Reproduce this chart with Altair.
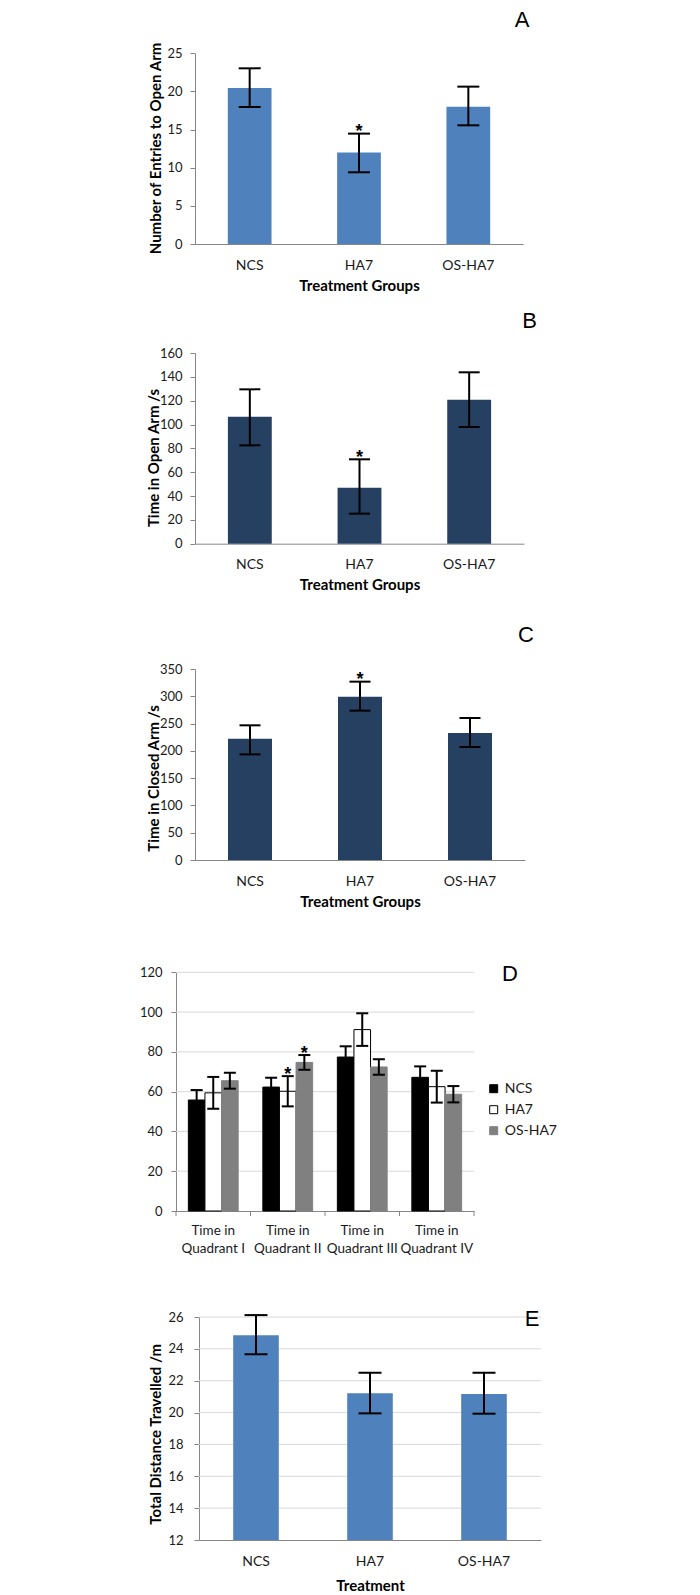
import altair as alt
import pandas as pd

FONT = "Lato"
AXIS_GRAY = "#868686"
GRID_GRAY = "#d9d9d9"
BLUE = "#4f81bd"
NAVY = "#254061"

groups = ["NCS", "HA7", "OS-HA7"]

# Panel A: Number of Entries to Open Arm
a_mean = [20.45, 11.98, 18.0]
a_lo = [17.96, 9.40, 15.56]
a_hi = [23.03, 14.47, 20.63]
a_star = ["", "*", ""]
a_ticks = [0, 5, 10, 15, 20, 25]

# Panel B: Time in Open Arm /s
b_mean = [106.6, 47.0, 120.8]
b_lo = [82.5, 25.2, 97.9]
b_hi = [129.5, 70.8, 143.8]
b_star = ["", "*", ""]
b_ticks = [0, 20, 40, 60, 80, 100, 120, 140, 160]

# Panel C: Time in Closed Arm /s
c_mean = [222.4, 299.3, 232.7]
c_lo = [193.6, 273.7, 207.1]
c_hi = [246.8, 326.8, 260.2]
c_star = ["", "*", ""]
c_ticks = [0, 50, 100, 150, 200, 250, 300, 350]

# Panel D: quadrant times
quadrants = ["Time in Quadrant I", "Time in Quadrant II",
             "Time in Quadrant III", "Time in Quadrant IV"]
d_ncs_mean = [55.8, 62.3, 77.4, 67.2]
d_ncs_err = [5.0, 4.7, 5.4, 5.5]
d_ha7_mean = [59.4, 60.2, 91.2, 62.5]
d_ha7_err = [8.0, 7.6, 8.2, 8.0]
d_os_mean = [65.5, 74.7, 72.4, 58.7]
d_os_err = [4.0, 3.7, 3.9, 4.1]
d_ncs_star = ["", "", "", ""]
d_ha7_star = ["", "*", "", ""]
d_os_star = ["", "*", "", ""]
d_ticks = [0, 20, 40, 60, 80, 100, 120]

# Panel E: Total Distance Travelled /m
e_mean = [24.85, 21.21, 21.17]
e_lo = [23.66, 19.95, 19.93]
e_hi = [26.12, 22.50, 22.50]
e_star = ["", "", ""]
e_ticks = [12, 14, 16, 18, 20, 22, 24, 26]


def letter_layer(letter, lx, ly):
    return alt.Chart(pd.DataFrame({"t": [letter]})).mark_text(
        font="Liberation Sans", fontSize=22, baseline="alphabetic",
        align="center", color="black"
    ).encode(x=alt.value(lx), y=alt.value(ly), text="t:N")


def simple_panel(means, los, his, stars, ticks, color, ytitle, xtitle, letter,
                 width, height, ytop, xr, yoff, ytx, yty, lx, ly, cap,
                 xtitle_y, ylabel_pad, grid=False, pin=False):
    df = pd.DataFrame({"group": groups, "mean": means, "lo": los,
                       "hi": his, "star": stars})
    ymin, ymax = ticks[0], ticks[-1]
    xs = alt.Scale(domain=groups, range=xr, paddingInner=0.6, paddingOuter=0.3)
    ys = alt.Scale(domain=[ymin, ymax], range=[height, ytop], nice=False, zero=False)
    xax = alt.Axis(title=xtitle, ticks=False, tickSize=0, labelPadding=14,
                   labelAngle=0, labelFontSize=14, titleY=xtitle_y,
                   titleBaseline="middle")
    yax = alt.Axis(title=ytitle, values=ticks, offset=yoff, grid=False,
                   tickSize=5, labelPadding=ylabel_pad, titleX=ytx, titleY=yty,
                   titleBaseline="middle")
    x = alt.X("group:N", scale=xs, axis=xax, sort=groups)
    base = alt.Chart(df)
    layers = []
    if grid:
        layers.append(
            alt.Chart(pd.DataFrame({"v": ticks[1:]})).mark_rule(
                color=GRID_GRAY, strokeWidth=1
            ).encode(y=alt.Y("v:Q", scale=ys, axis=yax),
                     x=alt.value(xr[0]), x2=alt.value(xr[1]))
        )
    layers.append(base.mark_bar(color=color, opacity=1).encode(
        x=x, y=alt.Y("mean:Q", scale=ys, axis=yax), y2=alt.datum(ymin)))
    layers.append(base.mark_rule(color="black", strokeWidth=2).encode(
        x=x, y=alt.Y("lo:Q", scale=ys, axis=yax), y2="hi:Q"))
    for f in ["lo", "hi"]:
        layers.append(base.mark_tick(orient="horizontal", size=cap, thickness=2,
                                     color="black", opacity=1).encode(
            x=x, y=alt.Y(f + ":Q", scale=ys, axis=yax)))
    layers.append(base.mark_text(font="Liberation Sans", fontSize=18,
                                 fontWeight="bold", baseline="alphabetic",
                                 dy=3.5, color="black").encode(
        x=x, y=alt.Y("hi:Q", scale=ys, axis=yax), text="star:N"))
    layers.append(letter_layer(letter, lx, ly))
    if pin:
        layers.append(alt.Chart(pd.DataFrame({"p": [0]})).mark_rule(
            color="white", strokeWidth=1).encode(
            x=alt.value(-186.5), y=alt.value(100), y2=alt.value(110)))
    return alt.layer(*layers).properties(width=width, height=height)


A = simple_panel(a_mean, a_lo, a_hi, a_star, a_ticks, BLUE,
                 "Number of Entries to Open Arm", "Treatment Groups", "A",
                 328, 235, 44.3, [0, 328], 0, -39.2, 139, 327, 17.6, 22,
                 41, 8, pin=True)
B = simple_panel(b_mean, b_lo, b_hi, b_star, b_ticks, NAVY,
                 "Time in Open Arm /s", "Treatment Groups", "B",
                 329, 299.7, 109, [0, 329], 0, -41.2, 213.5, 334.5, 84.3, 21,
                 41, 8)
C = simple_panel(c_mean, c_lo, c_hi, c_star, c_ticks, NAVY,
                 "Time in Closed Arm /s", "Treatment Groups", "C",
                 330, 316, 125, [0, 330], 0, -41.2, 234, 331, 98, 21,
                 41, 8)
E = simple_panel(e_mean, e_lo, e_hi, e_star, e_ticks, BLUE,
                 "Total Distance Travelled /m", "Treatment", "E",
                 346, 329, 106, [4, 346], -4, -43.2, 222.8, 337, 114.6, 23,
                 45, 11, grid=True)

# Panel D
rows = []
for s, means, errs, stars in [("NCS", d_ncs_mean, d_ncs_err, d_ncs_star),
                              ("HA7", d_ha7_mean, d_ha7_err, d_ha7_star),
                              ("OS-HA7", d_os_mean, d_os_err, d_os_star)]:
    for q, m, e, st in zip(quadrants, means, errs, stars):
        rows.append({"quad": q, "series": s, "mean": m,
                     "lo": m - e, "hi": m + e, "star": st})
ddf = pd.DataFrame(rows)

D_TOP = 858.7 - 8  # D view top in top-level coordinates
d_height = 351
d_xr = [-19, 279]
d_xs = alt.Scale(domain=quadrants, range=d_xr, paddingInner=0, paddingOuter=0)
d_ys = alt.Scale(domain=[0, 120], range=[d_height, 112.3], nice=False, zero=False)
d_xax = alt.Axis(title=None, ticks=False, tickSize=0,
                 labelPadding=12, labelAngle=0, labelFontSize=13.5,
                 labelLineHeight=18,
                 labelExpr="['Time in', replace(datum.label, 'Time in ', '')]")
d_yax = alt.Axis(title=None, values=d_ticks, offset=19, tickSize=5,
                 labelPadding=9, grid=False)
d_x = alt.X("quad:N", scale=d_xs, axis=d_xax, sort=quadrants)
d_xo = alt.XOffset("series:N", scale=alt.Scale(domain=groups, paddingInner=0,
                                               paddingOuter=0.744), sort=groups)
d_leg = alt.Legend(title=None, orient="none", legendX=291.7, legendY=D_TOP + 222,
                   symbolType="square", symbolSize=64, rowPadding=7,
                   padding=0, labelOffset=4, symbolStrokeWidth=1)
d_fill = alt.Fill("series:N", scale=alt.Scale(domain=groups,
                  range=["#000000", "#ffffff", "#808080"]), legend=d_leg, sort=groups)
d_stroke = alt.Stroke("series:N", scale=alt.Scale(domain=groups,
                      range=["#000000", "#000000", "#808080"]), legend=d_leg, sort=groups)

dbase = alt.Chart(ddf)
qdf = pd.DataFrame({"quad": quadrants})
d_layers = [
    alt.Chart(pd.DataFrame({"v": d_ticks[1:]})).mark_rule(
        color=GRID_GRAY, strokeWidth=1
    ).encode(y=alt.Y("v:Q", scale=d_ys, axis=d_yax),
             x=alt.value(d_xr[0]), x2=alt.value(d_xr[1])),
    # category-boundary tick marks on the x axis
    alt.Chart(qdf).mark_rule(color=AXIS_GRAY, strokeWidth=1).encode(
        x=alt.X("quad:N", scale=d_xs, axis=d_xax, sort=quadrants, bandPosition=0),
        y=alt.value(d_height), y2=alt.value(d_height + 5)),
    alt.Chart(pd.DataFrame({"p": [0]})).mark_rule(color=AXIS_GRAY, strokeWidth=1).encode(
        x=alt.value(d_xr[1]), y=alt.value(d_height), y2=alt.value(d_height + 5)),
    dbase.mark_bar(opacity=1, strokeWidth=1).encode(
        x=d_x, xOffset=d_xo, y=alt.Y("mean:Q", scale=d_ys, axis=d_yax),
        y2=alt.datum(0), fill=d_fill, stroke=d_stroke),
    dbase.mark_rule(color="black", strokeWidth=2).encode(
        x=d_x, xOffset=d_xo, y=alt.Y("lo:Q", scale=d_ys, axis=d_yax), y2="hi:Q"),
]
for f in ["lo", "hi"]:
    d_layers.append(dbase.mark_tick(orient="horizontal", size=12, thickness=2,
                                    color="black", opacity=1).encode(
        x=d_x, xOffset=d_xo, y=alt.Y(f + ":Q", scale=d_ys, axis=d_yax)))
d_layers.append(dbase.mark_text(font="Liberation Sans", fontSize=18,
                                fontWeight="bold", baseline="alphabetic",
                                dy=3.5, color="black").encode(
    x=d_x, xOffset=d_xo, y=alt.Y("hi:Q", scale=d_ys, axis=d_yax), text="star:N"))
d_layers.append(letter_layer("D", 315, 120.6))
D = alt.layer(*d_layers).properties(width=279, height=d_height)

chart = alt.vconcat(A, B, C, D, E, spacing=0, bounds="flush").properties(
    padding=0, background="white"
).configure_view(stroke=None).configure_axis(
    labelFont=FONT, titleFont=FONT, labelColor="#1a1a1a", titleColor="#000000",
    labelFontSize=13, titleFontSize=15, titleFontWeight="bold",
    domainColor=AXIS_GRAY, tickColor=AXIS_GRAY, domainWidth=1, tickWidth=1
).configure_legend(labelFont=FONT, labelFontSize=14, labelColor="#1a1a1a")

chart.save("out.html", embed_options={"renderer": "svg", "actions": False})
